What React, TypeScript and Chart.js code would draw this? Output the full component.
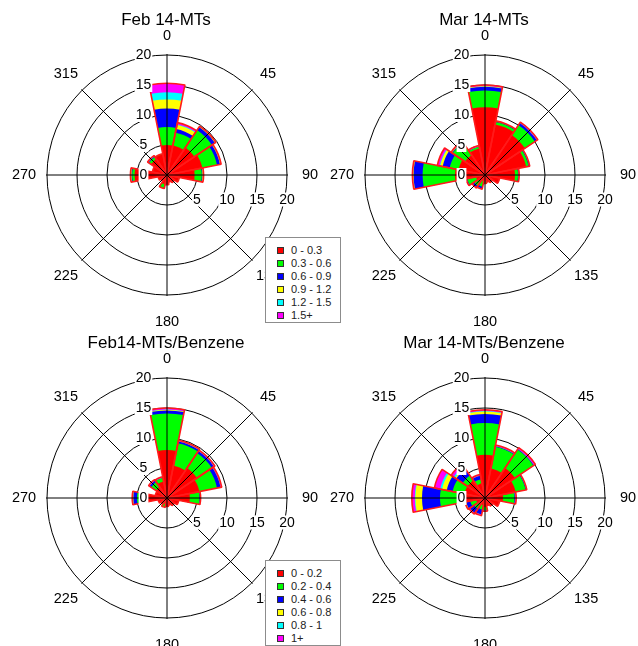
import React, { useEffect, useRef } from "react";
import { Chart, registerables } from "chart.js";

Chart.register(...registerables);

const FONT = "'Liberation Sans', Arial, Helvetica, sans-serif";

const DIRECTIONS = ["0", "22.5", "45", "67.5", "90", "112.5", "135", "157.5", "180", "202.5", "225", "247.5", "270", "292.5", "315", "337.5"];
const BIN_COLORS = ["#ff0000", "#00ff00", "#0000ff", "#ffff00", "#00ffff", "#ff00ff"];
const MT_BIN_LABELS = ["0 - 0.3", "0.3 - 0.6", "0.6 - 0.9", "0.9 - 1.2", "1.2 - 1.5", "1.5+"];
const RATIO_BIN_LABELS = ["0 - 0.2", "0.2 - 0.4", "0.4 - 0.6", "0.6 - 0.8", "0.8 - 1", "1+"];
const RADIAL_TICKS = [0, 5, 10, 15, 20];
const EAST_TICKS = [5, 10, 15, 20];
const COMPASS_LABELS = ["0", "45", "90", "135", "180", "225", "270", "315"];

// Feb 14-MTs (frequency % per direction, per concentration bin)
const FEB_MT_B1 = [5.0, 5.0, 5.5, 6.0, 4.6, 2.0, 1.5, 1.2, 1.6, 1.6, 1.2, 1.5, 5.4, 2.5, 3.2, 3.5];
const FEB_MT_B2 = [3.0, 2.2, 3.5, 2.5, 1.2, 0.1, 0, 0, 0, 0.6, 0, 0, 0.4, 0, 0.4, 0.1];
const FEB_MT_B3 = [3.1, 0.6, 0.6, 0.5, 0.1, 0, 0, 0, 0, 0, 0, 0, 0.1, 0, 0.1, 0];
const FEB_MT_B4 = [1.5, 0.7, 0.1, 0.1, 0.1, 0, 0, 0, 0, 0, 0, 0, 0.1, 0, 0, 0];
const FEB_MT_B5 = [1.2, 0.1, 0, 0, 0, 0, 0, 0, 0, 0, 0, 0, 0, 0, 0.1, 0];
const FEB_MT_B6 = [1.5, 0.3, 0.1, 0.1, 0.1, 0, 0, 0, 0, 0.1, 0, 0, 0.1, 0, 0.1, 0];

// Mar 14-MTs
const MAR_MT_B1 = [11.3, 8.6, 8.0, 7.0, 5.0, 2.5, 1.5, 1.2, 1.0, 1.0, 1.2, 1.5, 5.0, 4.5, 4.0, 4.5];
const MAR_MT_B2 = [2.8, 0.4, 2.0, 0.4, 0.5, 0, 0, 0, 0.4, 1.0, 1.0, 1.5, 5.4, 1.5, 2.5, 0.3];
const MAR_MT_B3 = [0.6, 0.1, 0.4, 0.1, 0.1, 0, 0, 0, 0, 0.3, 0.3, 0.1, 1.5, 1.2, 0.1, 0];
const MAR_MT_B4 = [0.1, 0, 0, 0, 0, 0, 0, 0, 0, 0, 0, 0, 0.1, 0.4, 0.1, 0];
const MAR_MT_B5 = [0, 0, 0, 0, 0, 0, 0, 0, 0, 0, 0, 0, 0, 0.1, 0, 0];
const MAR_MT_B6 = [0.2, 0.1, 0.2, 0.1, 0.1, 0, 0, 0, 0, 0.1, 0.1, 0.1, 0.1, 0.4, 0.1, 0.2];

// Feb14-MTs/Benzene
const FEB_RATIO_B1 = [8.0, 5.5, 6.0, 5.5, 3.8, 2.0, 1.5, 1.2, 1.4, 1.0, 1.2, 1.5, 4.5, 2.0, 2.2, 2.8];
const FEB_RATIO_B2 = [6.1, 3.8, 3.0, 3.0, 1.6, 0, 0, 0, 0, 0.6, 0, 0, 0.5, 0, 1.0, 0.6];
const FEB_RATIO_B3 = [0.5, 0.3, 0.4, 0.6, 0.1, 0, 0, 0, 0, 0, 0, 0, 0.6, 0, 0.3, 0];
const FEB_RATIO_B4 = [0.1, 0.05, 0, 0, 0, 0, 0, 0, 0, 0, 0, 0, 0.05, 0, 0, 0];
const FEB_RATIO_B5 = [0.05, 0, 0, 0, 0, 0, 0, 0, 0, 0, 0, 0, 0.05, 0, 0, 0];
const FEB_RATIO_B6 = [0.25, 0.15, 0.2, 0.2, 0.1, 0, 0, 0, 0, 0, 0, 0, 0.1, 0, 0.2, 0.2];

// Mar 14-MTs/Benzene
const MAR_RATIO_B1 = [7.2, 5.0, 6.0, 5.2, 3.0, 2.5, 1.6, 1.3, 1.5, 1.2, 1.2, 1.5, 4.5, 3.5, 3.5, 2.5];
const MAR_RATIO_B2 = [5.3, 3.7, 3.7, 1.7, 1.9, 0, 0, 0, 0.5, 0.8, 1.0, 1.0, 3.0, 2.0, 1.0, 0.7];
const MAR_RATIO_B3 = [1.5, 0.1, 0.1, 0.1, 0.1, 0, 0, 0, 0.1, 0.8, 0.8, 0.7, 3.0, 1.0, 1.3, 0.6];
const MAR_RATIO_B4 = [0.4, 0, 0, 0, 0, 0, 0, 0, 0, 0, 0, 0.1, 1.1, 0.8, 0.2, 0];
const MAR_RATIO_B5 = [0.1, 0, 0, 0, 0, 0, 0, 0, 0, 0, 0, 0, 0.1, 0.3, 0.3, 0];
const MAR_RATIO_B6 = [0.2, 0.2, 0.3, 0.1, 0.2, 0, 0, 0, 0.1, 0.2, 0.2, 0.1, 0.5, 1.0, 0.5, 0.2];

const CANVAS_W = 319;
const CANVAS_H = 345;
const PANEL_H = 323;

function makeDecor(title: string) {
  return {
    id: "roseDecor",
    afterDraw(chart: any) {
      const s = chart.scales.r;
      const cx = s.xCenter;
      const cy = s.yCenter;
      const R = s.drawingArea;
      const ctx = chart.ctx as CanvasRenderingContext2D;
      ctx.save();
      ctx.strokeStyle = "#000";
      ctx.lineWidth = 1;
      [0, 45, 90, 135].forEach((deg) => {
        const a = (deg * Math.PI) / 180;
        const ux = Math.sin(a);
        const uy = -Math.cos(a);
        const L = R + 1;
        ctx.beginPath();
        ctx.moveTo(cx - ux * L, cy - uy * L);
        ctx.lineTo(cx + ux * L, cy + uy * L);
        ctx.stroke();
      });
      ctx.fillStyle = "#000";
      ctx.textAlign = "center";
      ctx.textBaseline = "middle";
      ctx.font = `14.5px ${FONT}`;
      COMPASS_LABELS.forEach((lab, i) => {
        const a = (i * 45 * Math.PI) / 180;
        const d = i === 0 ? 139 : i === 4 ? 147 : 143;
        ctx.fillText(lab, cx + Math.sin(a) * d, cy - Math.cos(a) * d);
      });
      ctx.font = `14px ${FONT}`;
      const boxed = (text: string, x: number, y: number) => {
        const w = ctx.measureText(text).width;
        ctx.fillStyle = "#fff";
        ctx.fillRect(x - w / 2 - 1, y - 7, w + 2, 14);
        ctx.fillStyle = "#000";
        ctx.fillText(text, x, y + 0.5);
      };
      RADIAL_TICKS.forEach((v) => boxed(String(v), cx - 23.5, cy - s.getDistanceFromCenterForValue(v)));
      EAST_TICKS.forEach((v) => boxed(String(v), cx + s.getDistanceFromCenterForValue(v), cy + 24.5));
      ctx.font = `17px ${FONT}`;
      ctx.fillText(title, cx - 1, 20);
      ctx.restore();
    },
  };
}

function RosePanel(props: { title: string; bins: number[][]; binLabels: string[]; left: number; top: number; centerX: number }) {
  const ref = useRef<HTMLCanvasElement>(null);
  useEffect(() => {
    const { bins, binLabels, centerX, title } = props;
    const cum: number[][] = [];
    bins.forEach((arr, k) => {
      cum.push(arr.map((v, i) => (k ? cum[k - 1][i] : 0) + v));
    });
    const datasets: any[] = [
      {
        label: "outline",
        data: cum[cum.length - 1],
        backgroundColor: "rgba(0,0,0,0)",
        borderColor: "#ff1a1a",
        borderWidth: 1.6,
      },
      ...cum.map((d, k) => ({
        label: binLabels[k],
        data: d,
        backgroundColor: BIN_COLORS[k],
        borderWidth: 0,
      })),
    ];
    const chart = new Chart(ref.current as HTMLCanvasElement, {
      type: "polarArea",
      data: { labels: DIRECTIONS, datasets },
      options: {
        responsive: false,
        animation: false,
        events: [],
        layout: {
          padding: { left: centerX - 120, right: CANVAS_W - (centerX + 120), top: 55, bottom: CANVAS_H - 295 },
        },
        plugins: { legend: { display: false }, tooltip: { enabled: false }, title: { display: false } },
        scales: {
          r: {
            min: 0,
            max: 20,
            startAngle: -11.25,
            ticks: { display: false, stepSize: 5 },
            grid: { color: "#000", lineWidth: 1, circular: true },
            angleLines: { display: false },
            pointLabels: { display: false },
            z: 1,
          },
        },
      } as any,
      plugins: [makeDecor(title)],
    });
    return () => chart.destroy();
  }, []);
  return (
    <canvas
      ref={ref}
      width={CANVAS_W}
      height={CANVAS_H}
      style={{ position: "absolute", left: props.left, top: props.top, width: CANVAS_W, height: CANVAS_H }}
    />
  );
}

function Legend(props: { labels: string[]; left: number; top: number }) {
  return (
    <div
      style={{
        position: "absolute",
        left: props.left,
        top: props.top,
        width: 74,
        height: 84,
        border: "1px solid #8c8c8c",
        background: "#fff",
        zIndex: 5,
        fontFamily: FONT,
        fontSize: 11,
        color: "#222",
      }}
    >
      {props.labels.map((lab, k) => (
        <div
          key={k}
          style={{
            position: "absolute",
            left: 11,
            top: 12 + 13 * k - 7,
            height: 14,
            lineHeight: "14px",
            whiteSpace: "nowrap",
            display: "flex",
            alignItems: "center",
          }}
        >
          <span
            style={{
              display: "inline-block",
              width: 5,
              height: 5,
              border: "1px solid #333",
              background: BIN_COLORS[k],
              marginRight: 7,
            }}
          />
          <span>{lab}</span>
        </div>
      ))}
    </div>
  );
}

export default function App() {
  return (
    <div style={{ position: "absolute", left: 0, top: 0, width: 638, height: 646, overflow: "hidden", background: "#fff" }}>
      <RosePanel
        title="Feb 14-MTs"
        bins={[FEB_MT_B1, FEB_MT_B2, FEB_MT_B3, FEB_MT_B4, FEB_MT_B5, FEB_MT_B6]}
        binLabels={MT_BIN_LABELS}
        left={0}
        top={0}
        centerX={167}
      />
      <RosePanel
        title="Mar 14-MTs"
        bins={[MAR_MT_B1, MAR_MT_B2, MAR_MT_B3, MAR_MT_B4, MAR_MT_B5, MAR_MT_B6]}
        binLabels={MT_BIN_LABELS}
        left={319}
        top={0}
        centerX={166}
      />
      <RosePanel
        title="Feb14-MTs/Benzene"
        bins={[FEB_RATIO_B1, FEB_RATIO_B2, FEB_RATIO_B3, FEB_RATIO_B4, FEB_RATIO_B5, FEB_RATIO_B6]}
        binLabels={RATIO_BIN_LABELS}
        left={0}
        top={PANEL_H}
        centerX={167}
      />
      <RosePanel
        title="Mar 14-MTs/Benzene"
        bins={[MAR_RATIO_B1, MAR_RATIO_B2, MAR_RATIO_B3, MAR_RATIO_B4, MAR_RATIO_B5, MAR_RATIO_B6]}
        binLabels={RATIO_BIN_LABELS}
        left={319}
        top={PANEL_H}
        centerX={166}
      />
      <Legend labels={MT_BIN_LABELS} left={265} top={237} />
      <Legend labels={RATIO_BIN_LABELS} left={265} top={560} />
    </div>
  );
}
